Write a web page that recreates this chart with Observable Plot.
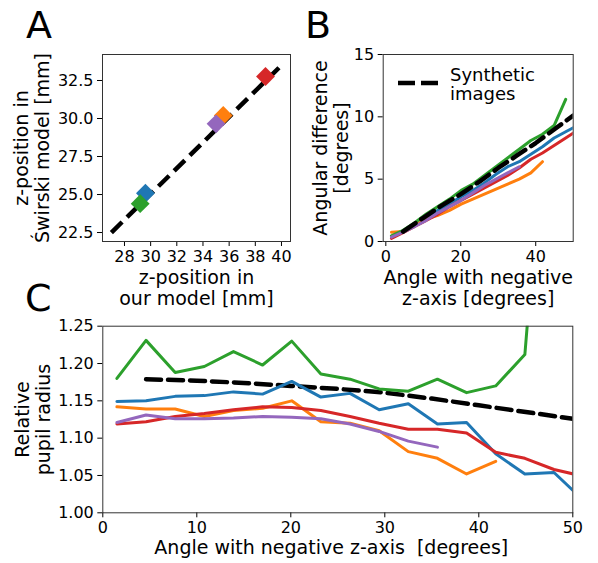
<!DOCTYPE html>
<html>
<head>
<meta charset="utf-8">
<script src="https://cdn.jsdelivr.net/npm/d3@7"></script>
<script src="https://cdn.jsdelivr.net/npm/@observablehq/plot@0.6"></script>
<style>
  html, body { margin: 0; padding: 0; background: #fff; }
  #root { position: relative; width: 598px; height: 563px; overflow: hidden; background: #fff; font-family: "DejaVu Sans", sans-serif; }
  #root svg { position: absolute; }
</style>
</head>
<body>
<div id="root"></div>
<script>
// ---------- DATA ----------
const colors = ["#1f77b4", "#ff7f0e", "#2ca02c", "#d62728", "#9467bd"]; // tab10: blue, orange, green, red, purple
const seriesNames = ["S1", "S2", "S3", "S4", "S5"];

// Panel A: eye-centre z-positions
const zOurModel    = [29.6, 35.55, 29.2, 38.78, 35.0];
const zSwirski     = [25.08, 30.2, 24.4, 32.76, 29.65];
const refLineX     = [27, 40];
const refLineY     = [22.5, 33.5];
const ticksAx      = [28, 30, 32, 34, 36, 38, 40];
const ticksAy      = [22.5, 25.0, 27.5, 30.0, 32.5];

// Common angle grid (degrees) for panels B and C
const angles = [1.5, 4.6, 7.7, 10.8, 13.9, 17.0, 20.1, 23.2, 26.3, 29.4, 32.5, 35.6, 38.7, 41.8, 44.9, 48.0, 51.1];

// Panel B: angular difference [degrees]
const blueB   = [0.4, 0.8, 1.3, 1.9, 2.5, 3.0, 3.6, 4.1, 4.7, 5.4, 6.0, 6.4, 7.0, 7.6, 8.3, 8.8, 9.3];
const orangeB = [0.75, 0.8, 1.3, 1.8, 2.1, 2.5, 3.0, 3.4, 3.8, 4.2, 4.6, 5.0, 5.5, 6.4];
const greenB  = [0.45, 0.9, 1.5, 2.2, 2.8, 3.4, 4.1, 4.6, 5.3, 6.0, 6.7, 7.4, 8.1, 8.6, 9.3, 11.4];
const redB    = [0.25, 0.7, 1.2, 1.7, 2.2, 2.8, 3.3, 3.8, 4.3, 4.8, 5.3, 5.9, 6.6, 7.1, 7.7, 8.3, 8.9];
const purpleB = [0.35, 0.75, 1.2, 1.7, 2.3, 2.8, 3.3, 3.9, 4.5, 5.0, 5.5, 6.0];

// Panel C: relative pupil radius
const blueC   = [1.149, 1.150, 1.156, 1.157, 1.162, 1.159, 1.176, 1.155, 1.160, 1.138, 1.146, 1.119, 1.121, 1.079, 1.052, 1.054, 1.017];
const orangeC = [1.142, 1.139, 1.139, 1.129, 1.137, 1.140, 1.150, 1.122, 1.120, 1.110, 1.082, 1.073, 1.052, 1.069];
const greenC  = [1.180, 1.231, 1.188, 1.196, 1.216, 1.198, 1.230, 1.186, 1.179, 1.166, 1.163, 1.179, 1.161, 1.170, 1.212, 1.69];
const redC    = [1.119, 1.122, 1.129, 1.133, 1.138, 1.142, 1.141, 1.137, 1.129, 1.120, 1.112, 1.112, 1.107, 1.081, 1.073, 1.058, 1.049];
const purpleC = [1.121, 1.131, 1.126, 1.126, 1.127, 1.129, 1.128, 1.126, 1.119, 1.109, 1.096, 1.088];

// Synthetic images (dashed)
const synthAngles = [4.6, 10, 15, 20, 25, 30, 35, 40, 45, 50];
const synthB = [0.8, 1.9, 2.9, 3.8, 4.8, 5.9, 6.9, 7.9, 9.0, 10.1];
const synthC = [1.179, 1.177, 1.174, 1.170, 1.166, 1.161, 1.153, 1.144, 1.135, 1.126];

const ticksBx = [0, 20, 40];
const ticksBy = [0, 5, 10, 15];
const ticksCx = [0, 10, 20, 30, 40, 50];
const ticksCy = [1.00, 1.05, 1.10, 1.15, 1.20, 1.25];

const panelLetters = ["A", "B", "C"];
const legendLabel = ["Synthetic", "images"];

// ---------- helpers ----------
const FONT = "DejaVu Sans, sans-serif";
const DASH = "15,7";
function toRows(xs, ys, name) { return ys.map((y, i) => ({x: xs[i], y, name})); }
const seriesB = [blueB, orangeB, greenB, redB, purpleB];
const seriesC = [blueC, orangeC, greenC, redC, purpleC];
const rowsB = seriesB.flatMap((s, k) => toRows(angles, s, seriesNames[k]));
const rowsC = seriesC.flatMap((s, k) => toRows(angles, s, seriesNames[k]));
const colorScale = {type: "ordinal", domain: seriesNames, range: colors};
const baseStyle = {fontFamily: FONT, fontSize: "16px", color: "black", background: "none", overflow: "visible"};
const frameColor = "#333";

const root = document.getElementById("root");
function place(svg, left, top) { svg.style.left = left + "px"; svg.style.top = top + "px"; root.appendChild(svg); }
function yLabel(txt, dx) {
  return Plot.text([txt], {text: d => d, frameAnchor: "left", textAnchor: "middle", lineAnchor: "bottom", rotate: -90, dx, fontSize: 19, lineHeight: 1.1});
}
function xLabel(txt, dy, dx = 0, lineHeight = 1.1) {
  return Plot.text([txt], {text: d => d, frameAnchor: "bottom", textAnchor: "middle", lineAnchor: "top", dy, dx, fontSize: 19, lineHeight});
}

// ---------- Panel A ----------
const pointsA = zOurModel.map((x, i) => ({x, y: zSwirski[i], name: seriesNames[i]}));
const refRows = refLineX.map((x, i) => ({x, y: refLineY[i]}));
const A = Plot.plot({
  width: 300, height: 300,
  marginLeft: 102, marginRight: 10, marginTop: 54, marginBottom: 59,
  style: baseStyle,
  x: {domain: [26.32, 40.69]},
  y: {domain: [21.91, 34.21]},
  color: colorScale,
  marks: [
    Plot.axisX({ticks: ticksAx, tickSize: 5, tickPadding: 4, label: null}),
    Plot.axisY({ticks: ticksAy, tickSize: 5, tickPadding: 4, label: null, tickFormat: d3.format(".1f")}),
    Plot.line(refRows, {x: "x", y: "y", stroke: "black", strokeWidth: 4.5, strokeDasharray: DASH, strokeLinecap: "butt"}),
    Plot.dot(pointsA, {x: "x", y: "y", fill: "name", symbol: "diamond2", r: 8.5}),
    Plot.frame({stroke: frameColor}),
    xLabel("z-position in\nour model [mm]", 28),
    yLabel("z-position in\nŚwirski model [mm]", -54)
  ]
});
place(A, 0, 0);

// ---------- Panel B ----------
const synthRowsB = synthAngles.map((x, i) => ({x, y: synthB[i]}));
const B = Plot.plot({
  width: 298, height: 300,
  marginLeft: 82.7, marginRight: 25.3, marginTop: 54, marginBottom: 59,
  style: baseStyle,
  x: {domain: [-0.7, 50]},
  y: {domain: [0, 15]},
  color: colorScale,
  marks: [
    Plot.axisX({ticks: ticksBx, tickSize: 5, tickPadding: 4, label: null}),
    Plot.axisY({ticks: ticksBy, tickSize: 5, tickPadding: 4, label: null}),
    Plot.line(rowsB, {x: "x", y: "y", z: "name", stroke: "name", strokeWidth: 3, clip: true}),
    Plot.line(synthRowsB, {x: "x", y: "y", stroke: "black", strokeWidth: 4.5, strokeDasharray: DASH, clip: true}),
    Plot.frame({stroke: frameColor}),
    xLabel("Angle with negative\nz-axis [degrees]", 28),
    yLabel("Angular difference\n[degrees]", -35)
  ]
});
place(B, 300, 0);

// ---------- Panel C ----------
const synthRowsC = synthAngles.map((x, i) => ({x, y: synthC[i]}));
const C = Plot.plot({
  width: 598, height: 263,
  marginLeft: 102.3, marginRight: 25.7, marginTop: 25.7, marginBottom: 50.7,
  style: baseStyle,
  x: {domain: [0, 50]},
  y: {domain: [1.0, 1.25]},
  color: colorScale,
  marks: [
    Plot.axisX({ticks: ticksCx, tickSize: 5, tickPadding: 4, label: null}),
    Plot.axisY({ticks: ticksCy, tickSize: 5, tickPadding: 4, label: null, tickFormat: d3.format(".2f")}),
    Plot.line(synthRowsC, {x: "x", y: "y", stroke: "black", strokeWidth: 4.5, strokeDasharray: DASH, clip: true}),
    Plot.line(rowsC, {x: "x", y: "y", z: "name", stroke: "name", strokeWidth: 3, clip: true}),
    Plot.frame({stroke: frameColor}),
    xLabel("Angle with negative z-axis\u00a0\u00a0[degrees]", 28, -6.5, 1.0),
    yLabel("Relative\npupil radius", -53)
  ]
});
place(C, 0, 300);

// ---------- Overlay: panel letters and legend ----------
const ov = d3.create("svg").attr("width", 598).attr("height", 563)
  .style("left", "0px").style("top", "0px").style("font-family", FONT);
const letterPos = [[26, 38], [305, 38], [25, 311]];
ov.selectAll("text.letter").data(panelLetters).join("text")
  .attr("class", "letter")
  .attr("x", (d, i) => letterPos[i][0]).attr("y", (d, i) => letterPos[i][1])
  .attr("font-size", 38).attr("fill", "black").text(d => d);
// legend (panel B)
ov.append("line").attr("x1", 398).attr("x2", 438).attr("y1", 83).attr("y2", 83)
  .attr("stroke", "black").attr("stroke-width", 4.5).attr("stroke-dasharray", "17,6");
ov.selectAll("text.leg").data(legendLabel).join("text")
  .attr("class", "leg").attr("x", 450).attr("y", (d, i) => 81 + i * 19)
  .attr("font-size", 18).attr("fill", "black").text(d => d);
root.appendChild(ov.node());
</script>
</body>
</html>
